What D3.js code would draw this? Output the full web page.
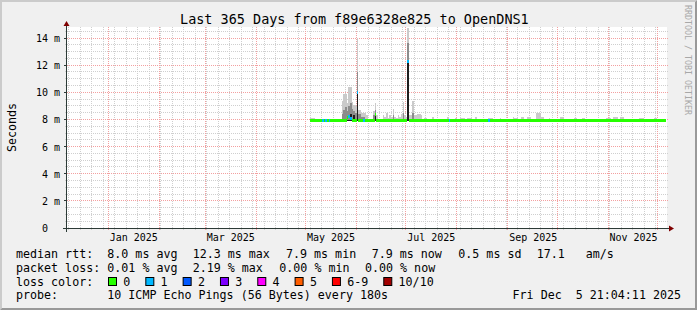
<!DOCTYPE html>
<html><head><meta charset="utf-8">
<script src="https://cdn.jsdelivr.net/npm/d3@7"></script>
<style>
html,body{margin:0;padding:0;background:#f0f0f0;}
svg{display:block;}
text{font-family:"DejaVu Sans Mono",monospace;fill:#000;}
</style>
</head><body>
<svg id="c" width="697" height="310"></svg>
<script>
// ---------------- data ----------------
const titleText = "Last 365 Days from f89e6328e825 to OpenDNS1";
const firstDay = "2025-05-04";           // first day with measurements (one value per day)
// median round trip time, ms
const medianRtt = [
 7.93,7.93,7.93,7.93,7.93,7.93,7.93,7.93,7.93,7.93,
 7.93,7.93,7.93,7.93,7.93,7.93,7.93,7.93,7.93,7.93,
 7.93,7.93,8.15,8.2,8.1,7.93,7.93,7.93,10.0,7.93,
 7.93,7.93,7.93,7.93,7.93,7.93,7.93,7.93,7.93,8.38,
 7.93,7.93,7.93,7.93,7.93,7.93,7.93,7.93,7.93,7.93,
 7.93,7.93,7.93,7.93,7.93,7.93,7.93,7.93,7.93,12.3,
 7.93,7.93,7.93,7.93,7.93,7.93,7.93,7.93,7.93,7.93,
 7.93,7.93,7.93,7.93,7.93,7.93,7.93,7.93,7.93,7.93,
 7.93,7.93,7.93,7.93,7.93,7.93,7.93,7.93,7.93,7.93,
 7.93,7.93,7.93,7.93,7.93,7.93,7.93,7.93,7.93,7.93,
 7.93,7.93,7.93,7.93,7.93,7.93,7.93,7.93,7.93,7.93,
 7.93,7.93,7.93,7.93,7.93,7.93,7.93,7.93,7.93,7.93,
 7.93,7.93,7.93,7.93,7.93,7.93,7.93,7.93,7.93,7.93,
 7.93,7.93,7.93,7.93,7.93,7.93,7.93,7.93,7.93,7.93,
 7.93,7.93,7.93,7.93,7.93,7.93,7.93,7.93,7.93,7.93,
 7.93,7.93,7.93,7.93,7.93,7.93,7.93,7.93,7.93,7.93,
 7.93,7.93,7.93,7.93,7.93,7.93,7.93,7.93,7.93,7.93,
 7.93,7.93,7.93,7.93,7.93,7.93,7.93,7.93,7.93,7.93,
 7.93,7.93,7.93,7.93,7.93,7.93,7.93,7.93,7.93,7.93,
 7.93,7.93,7.93,7.93,7.93,7.93,7.93,7.93,7.93,7.93,
 7.93,7.93,7.93,7.93,7.93,7.93,7.93,7.93,7.93,7.93,
 7.93,7.93,7.93,7.93,7.93,7.93
];
// lost pings out of 10
const lostPings = [
 0,0,0,0,0,0,0,1,0,1,
 0,1,0,0,0,0,0,0,0,0,
 0,0,0,1,1,0,0,0,1,0,
 0,0,1,0,0,0,0,0,0,0,
 0,0,0,0,0,0,0,0,0,0,
 0,0,0,0,0,0,0,0,0,1,
 0,0,0,0,0,0,0,0,0,0,
 0,0,0,0,0,0,0,0,0,0,
 0,0,0,0,1,0,0,0,0,0,
 0,0,0,0,0,0,0,0,0,0,
 0,0,0,0,0,0,0,0,1,0,
 0,0,0,0,0,0,0,0,0,0,
 0,0,0,0,0,0,0,0,0,0,
 0,0,0,0,0,0,0,0,0,0,
 0,0,0,0,0,0,0,0,0,0,
 0,0,0,0,0,0,0,0,0,0,
 0,0,0,0,0,0,0,0,0,0,
 0,0,0,0,0,0,0,0,0,0,
 0,0,0,0,0,0,0,0,0,0,
 0,0,0,0,0,0,0,0,0,0,
 0,0,0,0,0,0,0,0,0,0,
 0,0,0,0,0,0
];
// smoke: lowest ping, ms
const smokeMin = [
 7.85,7.85,7.85,7.85,7.85,7.85,7.85,7.85,7.85,7.85,
 7.85,7.85,7.85,7.85,7.85,7.85,7.85,7.85,7.85,7.85,
 7.85,7.85,7.85,7.85,7.85,7.85,7.85,7.85,7.85,7.85,
 7.85,7.85,7.85,7.85,7.85,7.85,7.85,7.85,7.85,7.85,
 7.85,7.85,7.85,7.85,7.85,7.85,7.85,7.85,7.85,7.85,
 7.85,7.85,7.85,7.85,7.85,7.85,7.85,7.85,7.85,7.85,
 7.85,7.85,7.85,7.85,7.85,7.85,7.85,7.85,7.85,7.85,
 7.85,7.85,7.85,7.85,7.85,7.85,7.85,7.85,7.85,7.85,
 7.85,7.85,7.85,7.85,7.85,7.85,7.85,7.85,7.85,7.85,
 7.85,7.85,7.85,7.85,7.85,7.85,7.85,7.85,7.85,7.85,
 7.85,7.85,7.85,7.85,7.85,7.85,7.85,7.85,7.85,7.85,
 7.85,7.85,7.85,7.85,7.85,7.85,7.85,7.85,7.85,7.85,
 7.85,7.85,7.85,7.85,7.85,7.85,7.85,7.85,7.85,7.85,
 7.85,7.85,7.85,7.85,7.85,7.85,7.85,7.85,7.85,7.85,
 7.85,7.85,7.85,7.85,7.85,7.85,7.85,7.85,7.85,7.85,
 7.85,7.85,7.85,7.85,7.85,7.85,7.85,7.85,7.85,7.85,
 7.85,7.85,7.85,7.85,7.85,7.85,7.85,7.85,7.85,7.85,
 7.85,7.85,7.85,7.85,7.85,7.85,7.85,7.85,7.85,7.85,
 7.85,7.85,7.85,7.85,7.85,7.85,7.85,7.85,7.85,7.85,
 7.85,7.85,7.85,7.85,7.85,7.85,7.85,7.85,7.85,7.85,
 7.85,7.85,7.85,7.85,7.85,7.85,7.85,7.85,7.85,7.85,
 7.85,7.85,7.85,7.85,7.85,7.85
];
// smoke: highest ping, ms (light smoke)
const smokeMax = [
 8.13,8.13,8.1,8.05,8.05,8.05,8.05,8.05,8.05,8.05,
 8.05,8.05,8.05,8.05,8.05,8.05,8.05,8.05,8.05,9.36,
 9.9,9.9,9.2,10.4,10.4,9.3,9.06,9.0,14.0,8.7,
 8.7,8.45,8.45,8.45,8.3,8.05,8.05,8.05,8.6,9.2,
 8.3,8.05,8.05,8.05,8.3,8.2,8.45,8.1,8.35,8.2,
 8.8,8.2,8.1,8.35,8.2,8.4,9.26,8.3,8.2,14.75,
 8.35,8.3,9.36,8.35,8.3,8.38,8.38,8.36,8.05,8.12,
 8.12,8.05,8.05,8.05,8.15,8.05,8.05,8.05,8.05,8.05,
 8.05,8.05,8.05,8.2,8.05,8.05,8.05,8.05,8.12,8.05,
 8.05,8.1,8.1,8.1,8.05,8.12,8.12,8.12,8.05,8.05,
 8.15,8.05,8.05,8.05,8.05,8.05,8.05,8.05,8.1,8.1,
 8.1,8.05,8.05,8.05,8.05,8.12,8.05,8.05,8.05,8.05,
 8.05,8.05,8.05,8.2,8.12,8.12,8.05,8.05,8.15,8.15,
 8.05,8.05,8.2,8.2,8.05,8.05,8.05,8.5,8.5,8.45,
 8.15,8.15,8.05,8.05,8.05,8.1,8.05,8.05,8.05,8.05,
 8.05,8.05,8.2,8.2,8.05,8.05,8.05,8.05,8.05,8.05,
 8.1,8.1,8.05,8.05,8.05,8.12,8.12,8.05,8.05,8.05,
 8.05,8.05,8.05,8.05,8.05,8.05,8.05,8.05,8.05,8.05,
 8.12,8.12,8.12,8.05,8.15,8.15,8.15,8.05,8.15,8.15,
 8.15,8.05,8.05,8.05,8.05,8.05,8.05,8.05,8.05,8.05,
 8.12,8.12,8.12,8.05,8.05,8.05,8.05,8.05,8.05,8.12,
 8.12,8.05,8.05,8.05,8.05,8.05
];
// smoke: upper quartile ping, ms (medium smoke)
const smokeUpper = [
 7.95,7.95,7.95,7.95,7.95,7.95,7.95,7.95,7.95,7.95,
 7.95,7.95,7.95,7.95,7.95,7.95,7.95,7.95,7.95,8.4,
 8.7,8.9,8.6,9.0,9.2,8.8,8.6,8.5,11.5,8.4,
 8.4,8.2,8.2,7.95,7.95,7.95,7.95,7.95,8.3,8.7,
 7.95,7.95,7.95,7.95,7.95,7.95,7.95,7.95,7.95,7.95,
 8.3,7.95,7.95,7.95,7.95,7.95,8.5,7.95,7.95,13.6,
 7.95,7.95,8.5,7.95,7.95,7.95,7.95,7.95,7.95,7.95,
 7.95,7.95,7.95,7.95,7.95,7.95,7.95,7.95,7.95,7.95,
 7.95,7.95,7.95,7.95,7.95,7.95,7.95,7.95,7.95,7.95,
 7.95,7.95,7.95,7.95,7.95,7.95,7.95,7.95,7.95,7.95,
 7.95,7.95,7.95,7.95,7.95,7.95,7.95,7.95,7.95,7.95,
 7.95,7.95,7.95,7.95,7.95,7.95,7.95,7.95,7.95,7.95,
 7.95,7.95,7.95,7.95,7.95,7.95,7.95,7.95,7.95,7.95,
 7.95,7.95,7.95,7.95,7.95,7.95,7.95,7.95,7.95,7.95,
 7.95,7.95,7.95,7.95,7.95,7.95,7.95,7.95,7.95,7.95,
 7.95,7.95,7.95,7.95,7.95,7.95,7.95,7.95,7.95,7.95,
 7.95,7.95,7.95,7.95,7.95,7.95,7.95,7.95,7.95,7.95,
 7.95,7.95,7.95,7.95,7.95,7.95,7.95,7.95,7.95,7.95,
 7.95,7.95,7.95,7.95,7.95,7.95,7.95,7.95,7.95,7.95,
 7.95,7.95,7.95,7.95,7.95,7.95,7.95,7.95,7.95,7.95,
 7.95,7.95,7.95,7.95,7.95,7.95,7.95,7.95,7.95,7.95,
 7.95,7.95,7.95,7.95,7.95,7.95
];
// smoke: dense core (dark smoke), ms
const smokeCore = [
 7.93,7.93,7.93,7.93,7.93,7.93,7.93,7.93,7.93,7.93,
 7.93,7.93,7.93,7.93,7.93,7.93,7.93,7.93,7.93,7.93,
 7.93,7.93,7.93,7.93,8.4,7.93,8.3,7.93,10.0,7.93,
 7.93,7.93,7.93,7.93,7.93,7.93,7.93,7.93,7.93,8.38,
 7.93,7.93,7.93,7.93,7.93,7.93,7.93,7.93,7.93,7.93,
 7.93,7.93,7.93,7.93,7.93,7.93,7.93,7.93,7.93,12.2,
 7.93,7.93,7.93,7.93,7.93,7.93,7.93,7.93,7.93,7.93,
 7.93,7.93,7.93,7.93,7.93,7.93,7.93,7.93,7.93,7.93,
 7.93,7.93,7.93,7.93,7.93,7.93,7.93,7.93,7.93,7.93,
 7.93,7.93,7.93,7.93,7.93,7.93,7.93,7.93,7.93,7.93,
 7.93,7.93,7.93,7.93,7.93,7.93,7.93,7.93,7.93,7.93,
 7.93,7.93,7.93,7.93,7.93,7.93,7.93,7.93,7.93,7.93,
 7.93,7.93,7.93,7.93,7.93,7.93,7.93,7.93,7.93,7.93,
 7.93,7.93,7.93,7.93,7.93,7.93,7.93,7.93,7.93,7.93,
 7.93,7.93,7.93,7.93,7.93,7.93,7.93,7.93,7.93,7.93,
 7.93,7.93,7.93,7.93,7.93,7.93,7.93,7.93,7.93,7.93,
 7.93,7.93,7.93,7.93,7.93,7.93,7.93,7.93,7.93,7.93,
 7.93,7.93,7.93,7.93,7.93,7.93,7.93,7.93,7.93,7.93,
 7.93,7.93,7.93,7.93,7.93,7.93,7.93,7.93,7.93,7.93,
 7.93,7.93,7.93,7.93,7.93,7.93,7.93,7.93,7.93,7.93,
 7.93,7.93,7.93,7.93,7.93,7.93,7.93,7.93,7.93,7.93,
 7.93,7.93,7.93,7.93,7.93,7.93
];
const yTicks = [0, 2, 4, 6, 8, 10, 12, 14];
const yTickLabels = ["0\u00a0\u00a0", "2 m", "4 m", "6 m", "8 m", "10 m", "12 m", "14 m"];
const xLabelMonths = ["2025-01-01", "2025-03-01", "2025-05-01", "2025-07-01", "2025-09-01", "2025-11-01"];
const xTickLabels = ["Jan 2025", "Mar 2025", "May 2025", "Jul 2025", "Sep 2025", "Nov 2025"];
const lossLabels = ["0", "1", "2", "3", "4", "5", "6-9", "10/10"];
const lossColors = ["#26ff00", "#00b8ff", "#0059ff", "#7e00ff", "#ff00ff", "#ff5e00", "#ff0000", "#a10000"];
const rttStats = [["median rtt:", 16], ["8.0 ms avg", 107.3], ["12.3 ms max", 192.7], ["7.9 ms min", 286], ["7.9 ms now", 371.7], ["0.5 ms sd", 458.3], ["17.1   am/s", 536.7]];
const lossStats = [["packet loss:", 16], ["0.01 % avg", 107.3], ["2.19 % max", 192.7], ["0.00 % min", 279.3], ["0.00 % now", 365]];
const probeText = "10 ICMP Echo Pings (56 Bytes) every 180s";
const dateText = "Fri Dec  5 21:04:11 2025";

// ---------------- drawing ----------------
const W = 697, H = 310;
const PL = 67, PR = 667, PB = 228, PT = 27;
const svg = d3.select("#c");

svg.append("rect").attr("width", W).attr("height", H).attr("fill", "#f0f0f0");
svg.append("path").attr("d", `M0,0H${W}L${W-2},2H2V${H-2}L0,${H}Z`).attr("fill", "#cbcbcb");
svg.append("path").attr("d", `M${W},0V${H}H0L2,${H-2}H${W-2}V2Z`).attr("fill", "#999999");
svg.append("rect").attr("x", PL).attr("y", PT).attr("width", PR - PL).attr("height", PB - PT).attr("fill", "#ffffff");

const x = d3.scaleUtc()
  .domain([new Date(Date.UTC(2024, 11, 6, 21, 4)), new Date(Date.UTC(2025, 11, 6, 21, 4))])
  .range([PL, PR]);
const y = d3.scaleLinear().domain([0, 14]).range([PB, 38]);
const crisp = v => Math.round(v) + 0.5;

// grid
const g = svg.append("g");
const minorY = d3.range(1, 30).map(k => k * 0.5).filter(v => v % 2 !== 0 && y(v) >= PT);
g.selectAll(".hmin").data(minorY).enter().append("line")
  .attr("x1", PL - 2).attr("x2", PR + 2)
  .attr("y1", d => crisp(y(d) - 0.5)).attr("y2", d => crisp(y(d) - 0.5))
  .attr("stroke", "#cfcfcf").attr("stroke-dasharray", "1,1");
const weeks = d3.utcSunday.range(x.domain()[0], x.domain()[1]);
g.selectAll(".vmin").data(weeks).enter().append("line")
  .attr("x1", d => crisp(x(d) - 0.5)).attr("x2", d => crisp(x(d) - 0.5))
  .attr("y1", PT).attr("y2", PB + 2)
  .attr("stroke", "#cfcfcf").attr("stroke-dasharray", "1,1");
g.selectAll(".hmaj").data(yTicks.slice(1)).enter().append("line")
  .attr("x1", PL - 2).attr("x2", PR + 2)
  .attr("y1", d => crisp(y(d) - 0.5)).attr("y2", d => crisp(y(d) - 0.5))
  .attr("stroke", "#f3a0a0").attr("stroke-dasharray", "1,1");
const months = d3.utcMonth.range(x.domain()[0], x.domain()[1]);
g.selectAll(".vmaj").data(months).enter().append("line")
  .attr("x1", d => crisp(x(d) - 0.5)).attr("x2", d => crisp(x(d) - 0.5))
  .attr("y1", PT).attr("y2", PB + 3)
  .attr("stroke", "#f3a0a0").attr("stroke-dasharray", "1,1");

// data
const start = new Date(firstDay + "T00:00:00Z");
const days = medianRtt.map((m, i) => ({
  t0: d3.utcDay.offset(start, i), t1: d3.utcDay.offset(start, i + 1),
  med: m, loss: lostPings[i], lo: smokeMin[i], hi: smokeMax[i], up: smokeUpper[i], core: smokeCore[i]
}));
const clipY = v => Math.max(PT, y(v));
const dataG = svg.append("g").attr("shape-rendering", "crispEdges");
function band(key, color) {
  dataG.selectAll(null).data(days.filter(d => d[key] > d.lo)).enter().append("rect")
    .attr("x", d => x(d.t0)).attr("width", d => x(d.t1) - x(d.t0))
    .attr("y", d => clipY(d[key])).attr("height", d => y(d.lo) - clipY(d[key]))
    .attr("fill", color);
}
band("hi", "#cacaca");
band("up", "#8c8c8c");
band("core", "#1e1e1e");
const lossIdx = n => n >= 10 ? 7 : n >= 6 ? 6 : n;
dataG.selectAll(null).data(days).enter().append("rect")
  .attr("x", d => x(d.t0)).attr("width", d => x(d.t1) - x(d.t0))
  .attr("y", d => y(d.med) - 1.5).attr("height", 3)
  .attr("fill", d => lossColors[lossIdx(d.loss)]);

// axes
const axisC = "#2c3a36";
svg.append("line").attr("x1", PL - 4).attr("x2", PR + 3).attr("y1", PB + 0.5).attr("y2", PB + 0.5).attr("stroke", axisC);
svg.append("line").attr("x1", PL - 0.5).attr("x2", PL - 0.5).attr("y1", PB + 4).attr("y2", PT - 3).attr("stroke", axisC);
svg.append("path").attr("d", `M${PR + 2},${PB - 2.5}L${PR + 7},${PB + 0.5}L${PR + 2},${PB + 3.5}Z`).attr("fill", "#7f0000");
svg.append("path").attr("d", `M${PL - 3.5},${PT - 1}L${PL - 0.5},${PT - 6}L${PL + 2.5},${PT - 1}Z`).attr("fill", "#7f0000");
// tick marks on y axis
svg.selectAll(".ytk").data(yTicks.slice(1)).enter().append("line")
  .attr("x1", PL - 3).attr("x2", PL).attr("y1", d => crisp(y(d) - 0.5)).attr("y2", d => crisp(y(d) - 0.5))
  .attr("stroke", axisC);

// y labels
svg.selectAll(".yl").data(yTicks).enter().append("text")
  .attr("x", 60).attr("y", d => y(d) + 4)
  .attr("text-anchor", "end").attr("font-size", "10px")
  .style("white-space", "pre")
  .text((d, i) => yTickLabels[i]);
// x labels
svg.selectAll(".xl").data(xLabelMonths).enter().append("text")
  .attr("x", d => x(d3.utcHour.offset(new Date(d + "T00:00:00Z"), 372)))
  .attr("y", 241).attr("text-anchor", "middle").attr("font-size", "10px")
  .text((d, i) => xTickLabels[i]);

// title
svg.append("text").attr("x", 354.4).attr("y", 24).attr("text-anchor", "middle")
  .attr("font-size", "13.47px").text(titleText);
// vertical axis title
svg.append("text").attr("transform", "translate(15.5,127.5) rotate(-90)")
  .attr("text-anchor", "middle").attr("font-size", "11.66px").text("Seconds");
// watermark
svg.append("text").attr("transform", "translate(685,5) rotate(90)")
  .attr("font-size", "8.3px").style("fill", "#a8a8a8").text("RRDTOOL / TOBI OETIKER");

// legend
const LF = "11.66px";
function row(items, yy) {
  items.forEach(([t, xx]) => svg.append("text").attr("x", xx).attr("y", yy)
    .attr("font-size", LF).style("white-space", "pre").text(t));
}
row(rttStats, 257.7);
row(lossStats, 271.7);
row([["loss color:", 16]], 285.5);
let lx = 108.5;
lossLabels.forEach((lab, i) => {
  svg.append("rect").attr("x", lx).attr("y", 277.5).attr("width", 8).attr("height", 8)
    .attr("fill", lossColors[i]).attr("stroke", "#000").attr("stroke-width", 1);
  svg.append("text").attr("x", lx + 14.8).attr("y", 285.5).attr("font-size", LF).text(lab);
  lx += 14.8 + lab.length * 7.02 + 15.5;
});
row([["probe:", 16], [probeText, 107.3]], 299.3);
svg.append("text").attr("x", 681).attr("y", 299.3).attr("text-anchor", "end")
  .attr("font-size", LF).style("white-space", "pre").text(dateText);
</script>
</body></html>
